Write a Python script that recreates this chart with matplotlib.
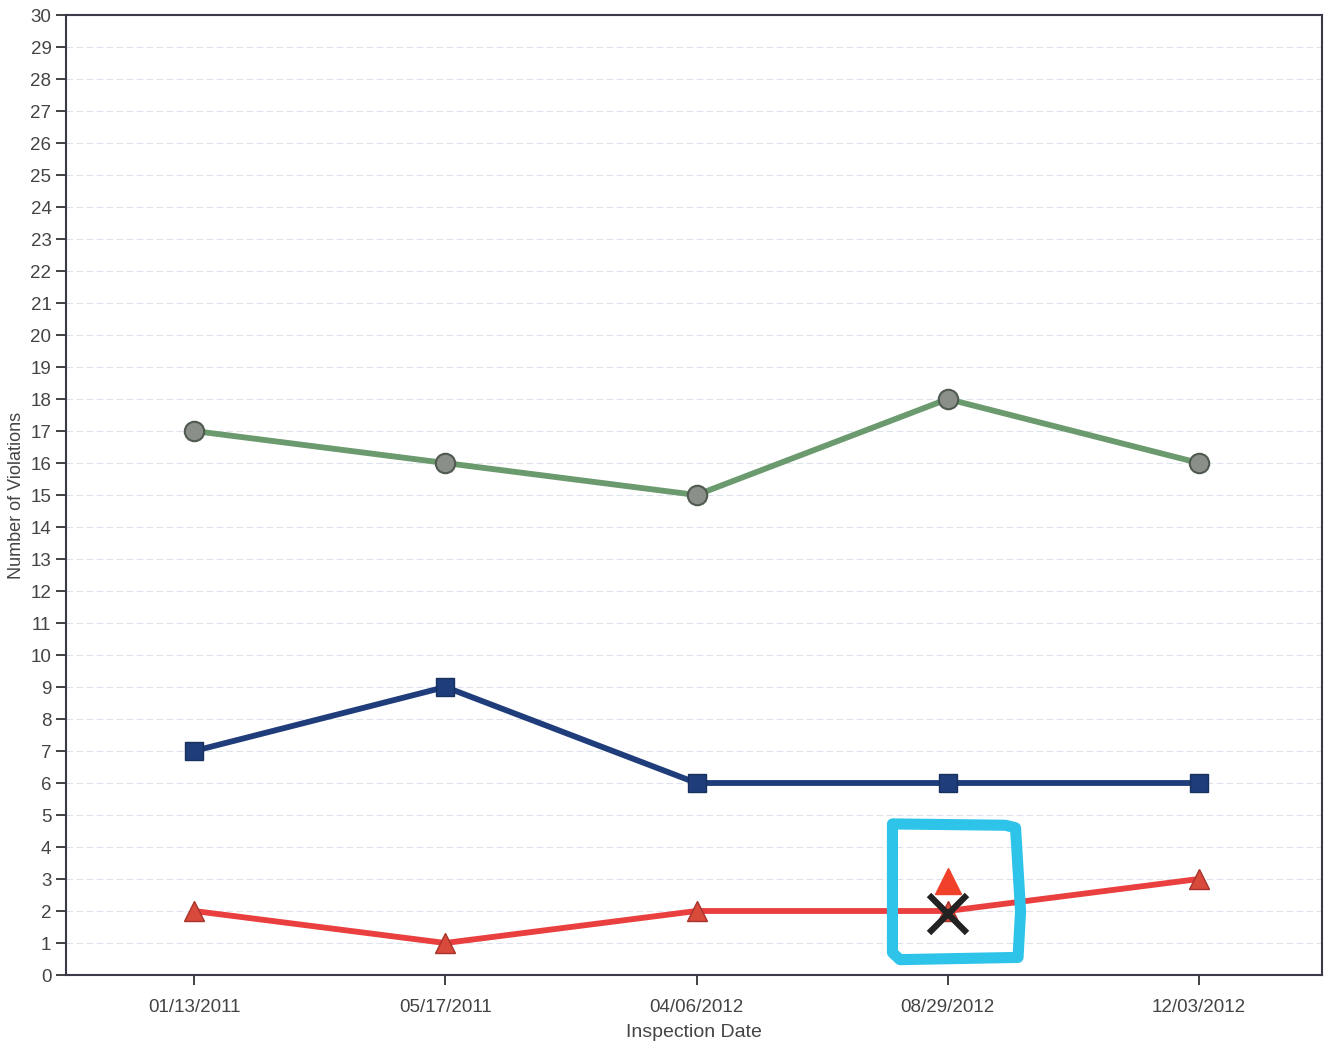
import matplotlib
matplotlib.use("Agg")
import matplotlib.pyplot as plt

# data
dates = ["01/13/2011", "05/17/2011", "04/06/2012", "08/29/2012", "12/03/2012"]
green_vals = [17, 16, 15, 18, 16]
blue_vals = [7, 9, 6, 6, 6]
red_vals = [2, 1, 2, 2, 3]

# hand-drawn markup on the printout (08/29/2012 point)
note_idx = 3
note_new_val = 3
note_old_val = 2

plt.rcParams['font.family'] = ['Liberation Sans', 'DejaVu Sans']

fig = plt.figure(figsize=(13.26, 10.48), dpi=100)
ax = fig.add_axes([66 / 1326, 1 - 975 / 1048, (1322 - 66) / 1326, (975 - 15) / 1048])

x = list(range(len(dates)))

ax.plot(x, green_vals, color="#6b9a6e", lw=4.2, marker="o", ms=14,
        mfc="#8a8f8a", mec="#4f5a50", mew=1.5, zorder=3)
ax.plot(x, blue_vals, color="#1f3d7a", lw=4.2, marker="s", ms=13,
        mfc="#1f3d7a", mec="#16305f", zorder=3)
ax.plot(x, red_vals, color="#ea3f3f", lw=4.2, marker="^", ms=14,
        mfc="#d84a3a", mec="#a8322c", zorder=3)

# handwritten corrections: cyan box, new red triangle and a black cross
box_x = [2.79, 3.23, 3.27, 3.29, 3.28, 2.81, 2.78, 2.78]
box_y = [4.72, 4.68, 4.6, 2.0, 0.55, 0.48, 0.7, 4.72]
ax.plot(box_x, box_y, color="#2ec4ea", lw=8, solid_capstyle="round",
        solid_joinstyle="round", zorder=4)
ax.plot(note_idx, note_new_val - 0.05, marker="^", ms=19, color="#f0402a",
        mec="#f0402a", zorder=5)
ax.plot(note_idx, note_old_val - 0.1, marker="x", ms=28, mew=4.5,
        color="#222222", zorder=5)

ax.set_xlim(-0.51, 4.49)
ax.set_ylim(0, 30)
ax.set_yticks(range(0, 31))
ax.set_xticks(x)
ax.set_xticklabels(dates)

ax.yaxis.grid(True, color="#dde3ec", lw=0.8, ls=(0, (6, 3)))
ax.set_axisbelow(True)

ax.tick_params(axis="both", direction="out", length=7, width=1.3,
               colors="#333333", labelsize=13.5, labelcolor="#444444")
ax.tick_params(axis="x", pad=10)
for side in ["left", "bottom", "top", "right"]:
    ax.spines[side].set_color("#3a3a48")
    ax.spines[side].set_linewidth(1.5)

ax.set_xlabel("Inspection Date", fontsize=14, color="#444444", labelpad=6)
ax.set_ylabel("Number of Violations", fontsize=13, color="#444444", labelpad=4)

fig.savefig("out.png", dpi=100, facecolor="white")
